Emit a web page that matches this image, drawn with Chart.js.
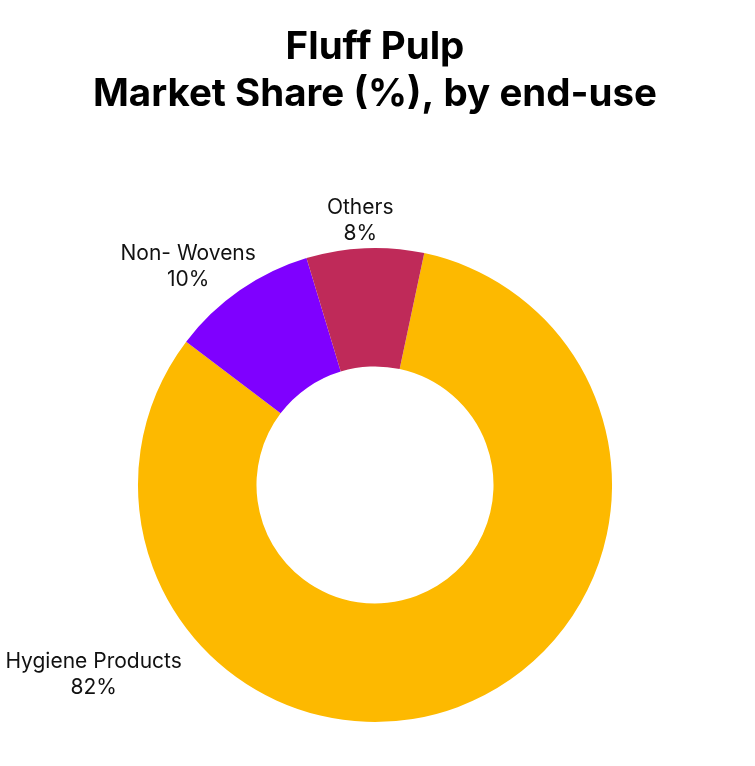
<!DOCTYPE html>
<html>
<head>
<meta charset="utf-8">
<style>
    html, body { margin: 0; padding: 0; background: #ffffff; }
    #wrap { width: 755px; height: 766px; }
</style>
<script src="https://cdn.jsdelivr.net/npm/chart.js@4.4.0/dist/chart.umd.min.js"></script>
</head>
<body>
<div id="wrap"><canvas id="share-chart"></canvas></div>
<script>
// Данные диаграммы
const categories = ['Hygiene Products', 'Non- Wovens', 'Others'];
const shares = [82, 10, 8];
const sliceColors = ['#FDB900', '#7F00FF', '#BF2A59'];

// Положение подписей: угол от верха (по часовой) и отступ относительно внешнего радиуса
const labelAngles = [-124, -40.6, -3.2];
const labelRadius = [1.432, 1.211, 1.118];

// Плагин подписей сегментов
const outsideLabels = {
    id: 'outsideLabels',
    afterDatasetsDraw(chart) {
        const ctx = chart.ctx;
        const meta = chart.getDatasetMeta(0);
        ctx.save();
        ctx.font = '21px Inter, "Noto Sans", sans-serif';
        ctx.fillStyle = '#111111';
        ctx.textAlign = 'center';
        ctx.textBaseline = 'middle';
        meta.data.forEach((arc, i) => {
            const a = labelAngles[i] * Math.PI / 180;
            const r = arc.outerRadius * labelRadius[i];
            const x = arc.x + Math.sin(a) * r;
            const y = arc.y - Math.cos(a) * r;
            ctx.fillText(chart.data.labels[i], x, y - 13);
            ctx.fillText(chart.data.datasets[0].data[i] + '%', x, y + 13);
        });
        ctx.restore();
    }
};

new Chart(document.getElementById('share-chart'), {
    type: 'doughnut',
    data: {
        labels: categories,
        datasets: [{
            data: shares,
            backgroundColor: sliceColors,
            borderWidth: 0
        }]
    },
    options: {
        responsive: true,
        maintainAspectRatio: false,
        animation: false,
        rotation: 12,
        cutout: '50%',
        layout: {
            padding: {left: 0, right: 5, top: 0, bottom: 44}
        },
        plugins: {
            legend: {display: false},
            tooltip: {enabled: false},
            title: {
                display: true,
                text: ['Fluff Pulp', 'Market Share (%), by end-use'],
                color: '#000000',
                font: {family: 'Inter, "Noto Sans", sans-serif', size: 38.5, weight: 'bold', lineHeight: 1.22},
                padding: {top: 24, bottom: 130}
            }
        }
    },
    plugins: [outsideLabels]
});
</script>
</body>
</html>
